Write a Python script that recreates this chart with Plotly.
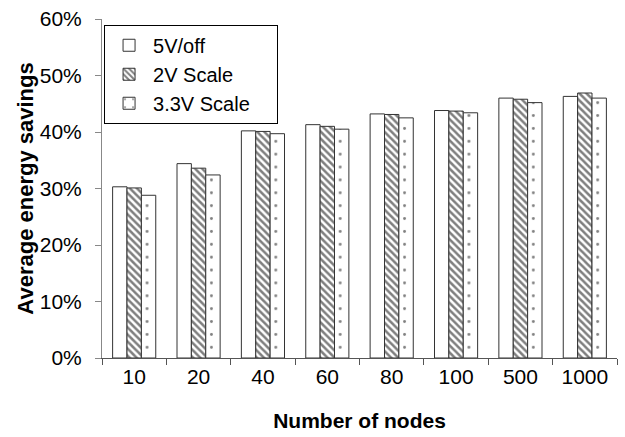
import plotly.graph_objects as go

categories = ["10", "20", "40", "60", "80", "100", "500", "1000"]
series_names = ["5V/off", "2V Scale", "3.3V Scale"]
v_5v_off = [30.3, 34.4, 40.2, 41.3, 43.2, 43.8, 46.0, 46.3]
v_2v_scale = [30.1, 33.6, 40.1, 41.0, 43.1, 43.7, 45.8, 46.9]
v_33v_scale = [28.8, 32.4, 39.7, 40.5, 42.5, 43.4, 45.2, 46.0]
y_ticks = [0, 10, 20, 30, 40, 50, 60]
y_tick_labels = ["0%", "10%", "20%", "30%", "40%", "50%", "60%"]

font_family = "Liberation Sans, Arial, sans-serif"

patterns = [
    dict(shape="", fillmode="overlay"),
    dict(shape="\\", size=5, solidity=0.5, fgcolor="black", bgcolor="white", fillmode="overlay"),
    dict(shape=".", size=12.875, solidity=0.04, fgcolor="black", bgcolor="white", fillmode="overlay"),
]

pad = "<span style='color:white'>....</span>"

fig = go.Figure()
for name, vals, pat in zip(series_names, [v_5v_off, v_2v_scale, v_33v_scale], patterns):
    fig.add_trace(go.Bar(
        x=categories, y=vals, name=name + pad,
        marker=dict(color="white", line=dict(color="#333333", width=1), pattern=pat),
    ))

fig.update_layout(
    width=625, height=437,
    margin=dict(l=102, r=8, t=19, b=79),
    paper_bgcolor="white", plot_bgcolor="white",
    barmode="group", bargap=0.33, bargroupgap=0,
    font=dict(family=font_family, size=21, color="black"),
    showlegend=True,
    legend=dict(
        x=0.004, y=0.983, xanchor="left", yanchor="top",
        bgcolor="white", bordercolor="black", borderwidth=1,
        font=dict(size=20), itemwidth=38, tracegroupgap=0,
    ),
    xaxis=dict(
        type="category", showline=True, linecolor="#555555", linewidth=1,
        ticks="outside", tickson="boundaries", ticklen=6, tickcolor="#555555",
        showgrid=False, zeroline=False,
        title=dict(text="<b>Number of nodes</b>", font=dict(size=21), standoff=26),
        tickfont=dict(size=21),
    ),
    yaxis=dict(
        range=[0, 60], tickvals=y_ticks, ticktext=y_tick_labels,
        showline=True, linecolor="#888888", linewidth=1,
        ticks="outside", ticklen=6, tickcolor="#888888", ticklabelstandoff=9,
        showgrid=False, zeroline=False,
        title=dict(text="<b>Average energy savings</b>", font=dict(size=22), standoff=0),
        tickfont=dict(size=21),
    ),
)

fig.write_html("out.html")
